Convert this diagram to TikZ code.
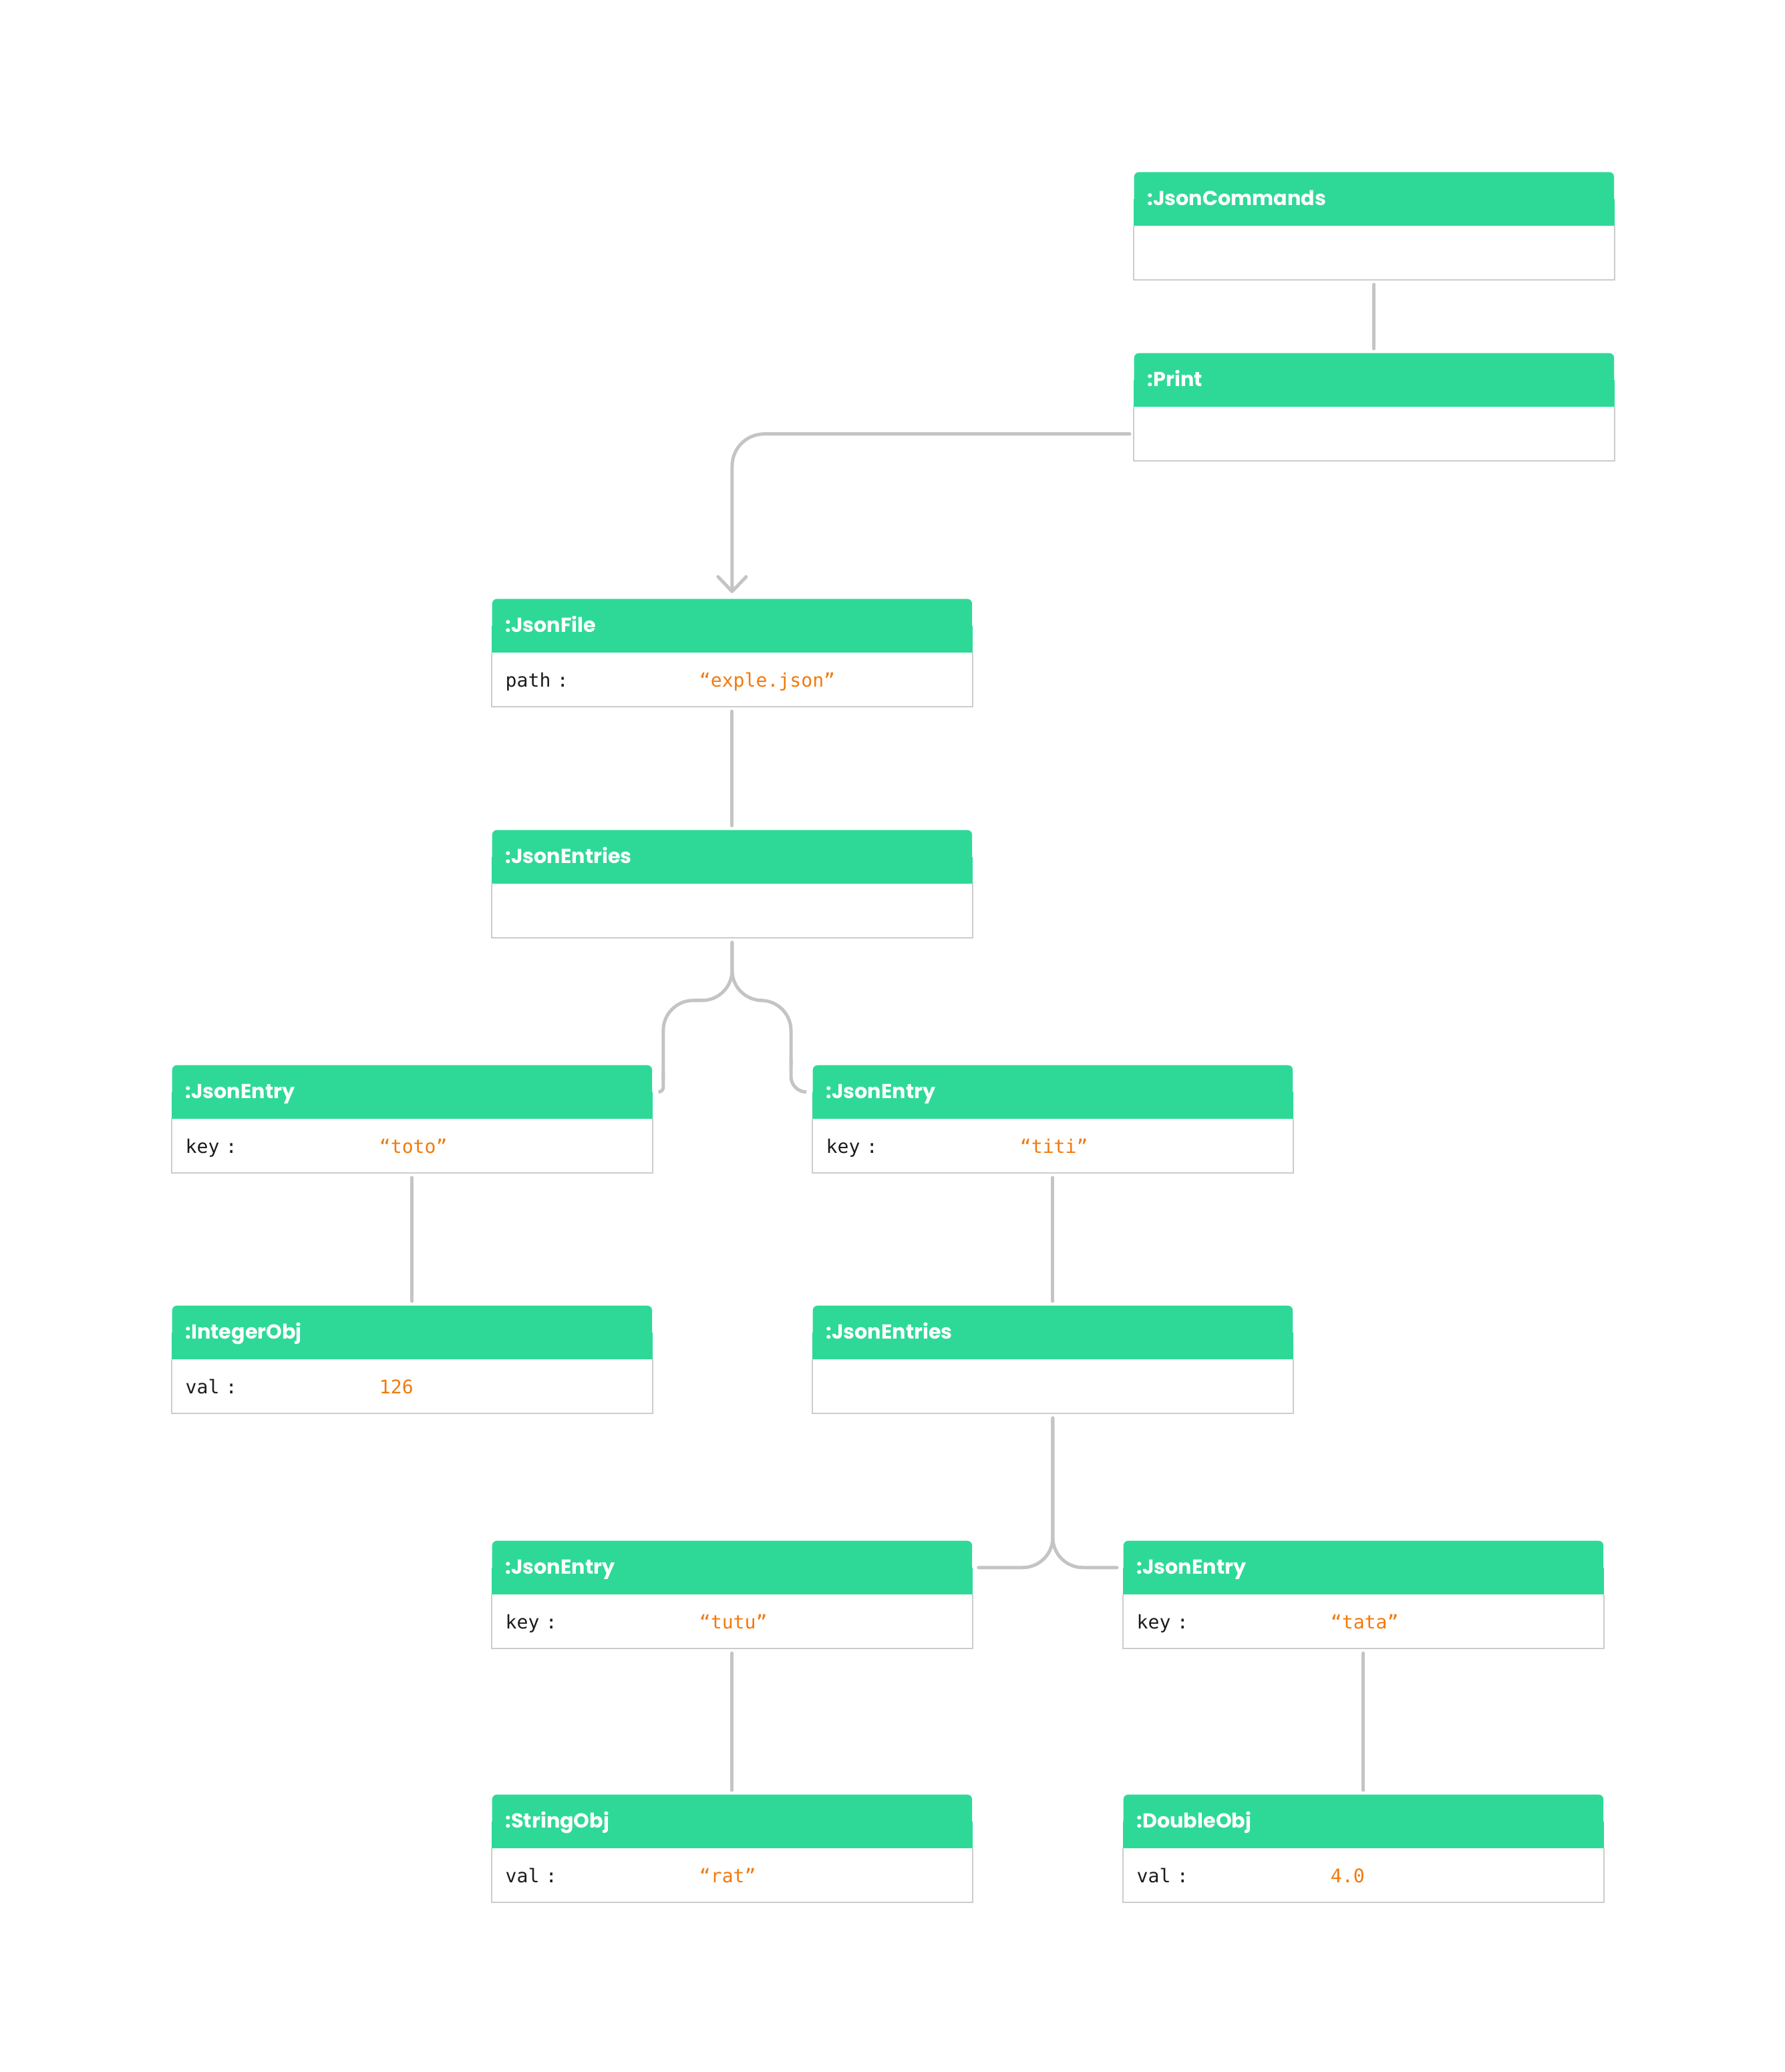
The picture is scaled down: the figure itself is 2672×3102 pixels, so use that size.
\documentclass[tikz,border=0pt]{standalone}
\usepackage{fontspec}
\usepackage{xcolor}
\usepackage{tikz}
\usetikzlibrary{arrows.meta,positioning,calc,backgrounds}
\newfontfamily\headfont{Poppins}
\newfontfamily\attrfont{DejaVu Sans Mono}
\definecolor{headgreen}{RGB}{46,217,151}
\definecolor{valorange}{RGB}{242,122,12}
\definecolor{linegray}{RGB}{196,196,196}
\definecolor{bordergray}{RGB}{204,204,204}
\definecolor{attrblack}{RGB}{28,28,28}
\tikzset{objhead/.style={anchor=north west,fill=headgreen,rounded corners=0.07cm,minimum width=7.18cm,minimum height=0.8cm,
    text width=6.78cm,inner xsep=0.2cm,inner ysep=0pt,text height=0.2cm,text depth=0pt,align=left,text=white,
    font=\headfont\bfseries\fontsize{8.6}{10}\selectfont},
  objbody/.style={fill=white,minimum width=7.18cm,minimum height=0.79cm,text width=6.78cm,inner xsep=0.2cm,inner ysep=0pt,
    text height=0.21cm,text depth=0pt,align=left,text=attrblack,font=\attrfont\fontsize{8}{9}\selectfont},
  edgeline/.style={draw=bordergray,line width=0.02cm},
  conn/.style={draw=linegray,line width=0.05cm,line cap=round},
  arr/.style={-{Straight Barb[length=0.22cm,width=0.42cm,round]}}}

\begin{document}
\begin{tikzpicture}[x=0.01cm,y=-0.01cm]
\useasboundingbox (0,0) rectangle (2672,3102);
\foreach \n/\x/\y/\t/\a/\v in {jc/1697/257/JsonCommands//, pr/1697/528/Print//,
    jf/736/896/JsonFile/path :/“exple.json”, es1/736/1242/JsonEntries//,
    ea/257/1594/JsonEntry/key :/“toto”, eb/1216/1594/JsonEntry/key :/“titi”,
    io/257/1954/IntegerObj/val :/126, es2/1216/1954/JsonEntries//,
    tu/736/2306/JsonEntry/key :/“tutu”, ta/1681/2306/JsonEntry/key :/“tata”,
    so/736/2686/StringObj/val :/“rat”, dob/1681/2686/DoubleObj/val :/4.0}{
  \node[objhead] (\n) at (\x,\y) {:\t};
  \begin{scope}[on background layer]
    \fill[headgreen] (\n.west) rectangle (\n.south east);
  \end{scope}
  \node[objbody,below=0pt of \n] (\n-b) {\makebox[2.9cm][l]{\a}\textcolor{valorange}{\v}};
  \draw[edgeline] (\n-b.north west) |- (\n-b.south east) -- (\n-b.north east);
}
% straight links
\foreach \u/\w in {jc/pr,jf/es1,ea/io,eb/es2,tu/so,ta/dob}
  \draw[conn] ($(\u-b.south)+(0,7)$) -- ($(\w.north)+(0,-6)$);
\draw[conn,arr,rounded corners=0.48cm] ($(pr-b.west)+(-6,0)$) -| ($(jf.north)+(0,-8)$);
% forks, with a small hook at each end
\draw[conn,rounded corners=0.45cm] ($(es1-b.south)+(0,7)$) |- ($(ea.east)+(16,-137)$) -- ($(ea.east)+(16,-20)$);
\draw[conn,rounded corners=0.07cm] ($(ea.east)+(16,-30)$) |- ($(ea.east)+(9,0)$);
\draw[conn,rounded corners=0.45cm] ($(es1-b.south)+(0,7)$) |- ($(eb.west)+(-32,-137)$) -- ($(eb.west)+(-32,-40)$);
\draw[conn,rounded corners=0.23cm] ($(eb.west)+(-32,-50)$) |- ($(eb.west)+(-9,0)$);
\draw[conn,rounded corners=0.45cm] ($(es2-b.south)+(0,7)$) |- ($(tu.east)+(9,0)$);
\draw[conn,rounded corners=0.45cm] ($(es2-b.south)+(0,7)$) |- ($(ta.west)+(-9,0)$);
\end{tikzpicture}
\end{document}
